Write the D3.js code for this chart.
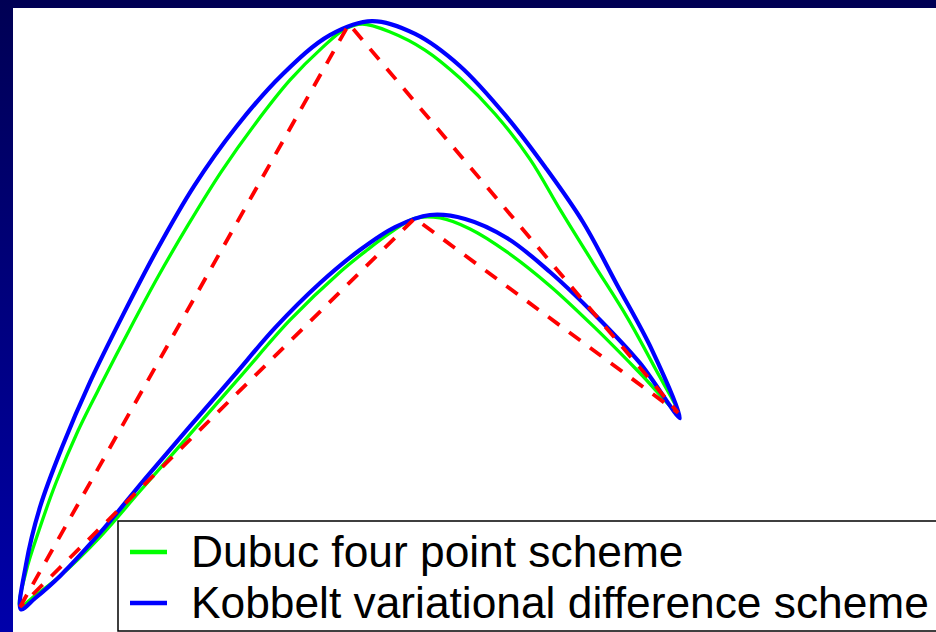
<!DOCTYPE html>
<html>
<head>
<meta charset="utf-8">
<script src="https://cdn.jsdelivr.net/npm/d3@7"></script>
<style>
  html, body { margin: 0; padding: 0; background: #fff; }
  svg { display: block; }
</style>
</head>
<body>
<svg width="936" height="632"></svg>
<script>
// control polygon (closed)
const controlPoints = [[0, 0], [1, 3], [2, 1], [1.2, 2]];

// Dubuc four point scheme (closed loop)
const dubucPoints = [
  [0, 0], [0.018, 0.180], [0.058, 0.396], [0.109, 0.638], [0.176, 0.906],
  [0.255, 1.173], [0.334, 1.431], [0.419, 1.698], [0.511, 1.966], [0.611, 2.238],
  [0.717, 2.491], [0.821, 2.712], [0.918, 2.877], [0.988, 2.974], [1.040, 3.000],
  [1.125, 2.959], [1.231, 2.866], [1.337, 2.722], [1.444, 2.537], [1.550, 2.305],
  [1.644, 2.038], [1.742, 1.770], [1.845, 1.492], [1.930, 1.230], [2, 1],
  [1.884, 1.204], [1.748, 1.436], [1.611, 1.652], [1.480, 1.827], [1.368, 1.945],
  [1.277, 2.002], [1.2, 2], [1.125, 1.925], [1.055, 1.837], [0.973, 1.724],
  [0.821, 1.477], [0.669, 1.184], [0.517, 0.890], [0.365, 0.597], [0.243, 0.360],
  [0.122, 0.160], [0.040, 0.051]
];

// Kobbelt variational difference scheme (closed loop)
const kobbeltPoints = [
  [0.003, -0.012], [0.018, 0.216], [0.061, 0.515], [0.128, 0.823], [0.213, 1.158],
  [0.313, 1.503], [0.416, 1.837], [0.529, 2.166], [0.657, 2.470], [0.796, 2.738],
  [0.942, 2.943], [1.070, 3.015], [1.201, 2.949], [1.337, 2.784], [1.480, 2.521],
  [1.596, 2.264], [1.711, 1.981], [1.815, 1.657], [1.921, 1.322], [2.006, 0.972],
  [1.884, 1.256], [1.748, 1.503], [1.611, 1.724], [1.480, 1.899], [1.353, 1.997],
  [1.246, 2.017], [1.140, 1.955], [1.033, 1.837], [0.912, 1.667], [0.775, 1.436],
  [0.647, 1.184], [0.517, 0.931], [0.380, 0.659], [0.243, 0.381], [0.122, 0.160],
  [0.046, 0.045]
];

const legendLabels = ["Dubuc four point scheme", "Kobbelt variational difference scheme"];
const legendColors = ["#00ff00", "#0000ff"];

const svg = d3.select("svg");

// slide background
const defs = svg.append("defs");
const grad = defs.append("linearGradient")
  .attr("id", "bg")
  .attr("x1", 0).attr("y1", 0).attr("x2", 0).attr("y2", 1);
grad.append("stop").attr("offset", "0%").attr("stop-color", "#000054");
grad.append("stop").attr("offset", "100%").attr("stop-color", "#0000aa");

svg.append("rect")
  .attr("width", 936).attr("height", 632)
  .attr("fill", "url(#bg)");
svg.append("rect")
  .attr("x", 13).attr("y", 8)
  .attr("width", 936 - 13).attr("height", 632 - 8)
  .attr("fill", "#fff");

const x = d3.scaleLinear().domain([0, 2]).range([20, 678]);
const y = d3.scaleLinear().domain([0, 3]).range([607, 24]);

const smooth = d3.line()
  .x(d => x(d[0]))
  .y(d => y(d[1]))
  .curve(d3.curveCatmullRomClosed.alpha(0.5));

const polygon = d3.line()
  .x(d => x(d[0]))
  .y(d => y(d[1]))
  .curve(d3.curveLinearClosed);

svg.append("path")
  .attr("d", smooth(dubucPoints))
  .attr("fill", "none")
  .attr("stroke", legendColors[0])
  .attr("stroke-width", 3.3);

svg.append("path")
  .attr("d", smooth(kobbeltPoints))
  .attr("fill", "none")
  .attr("stroke", legendColors[1])
  .attr("stroke-width", 4.2);

svg.append("path")
  .attr("d", polygon(controlPoints))
  .attr("fill", "none")
  .attr("stroke", "#ff0000")
  .attr("stroke-width", 3.8)
  .attr("stroke-dasharray", "14,12");

// legend
const legend = svg.append("g").attr("class", "legend");
legend.append("rect")
  .attr("x", 118).attr("y", 521)
  .attr("width", 830).attr("height", 110)
  .attr("fill", "#fff")
  .attr("stroke", "#000")
  .attr("stroke-width", 1.5);

const items = legend.selectAll("g.item")
  .data(legendLabels)
  .enter()
  .append("g")
  .attr("class", "item")
  .attr("transform", (d, i) => `translate(0,${552 + i * 51})`);

items.append("line")
  .attr("x1", 130).attr("x2", 167)
  .attr("stroke", (d, i) => legendColors[i])
  .attr("stroke-width", 4.5);

items.append("text")
  .attr("x", 191)
  .attr("y", 15)
  .attr("font-family", "Liberation Sans, Arial, sans-serif")
  .attr("font-size", 44.3)
  .attr("fill", "#000")
  .text(d => d);
</script>
</body>
</html>
